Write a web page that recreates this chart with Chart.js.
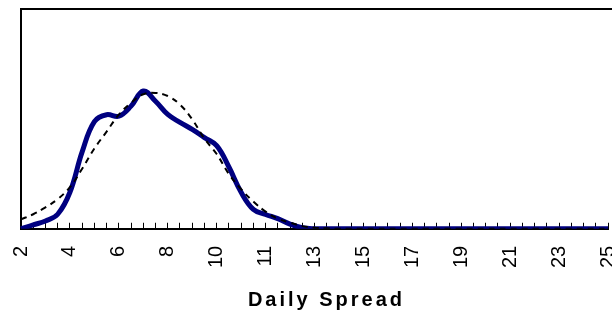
<!DOCTYPE html>
<html>
<head>
<meta charset="utf-8">
<script src="https://cdn.jsdelivr.net/npm/chart.js@4.4.1/dist/chart.umd.min.js"></script>
<style>
  html, body { margin: 0; padding: 0; background: #fff; overflow: hidden; }
  #wrap { width: 612px; height: 314px; overflow: hidden; }
</style>
</head>
<body>
<div id="wrap"><canvas id="spread_chart" width="640" height="314"></canvas></div>
<script>
// tick labels shown on every 4th category
var tickLabels = ['2', '4', '6', '8', '10', '11', '13', '15', '17', '19', '21', '23', '25'];

// solid navy series
var observed = [0, 1.8, 3.5, 6.6, 16.6, 35, 48.8, 51.9, 51.2, 55.8, 62.7, 58, 52, 48.4, 45.2, 41.5,
    37.8, 28.1, 16.6, 8.8, 6.5, 4.6, 2.1, 0.5, 0, 0, 0, 0, 0, 0, 0, 0, 0, 0, 0, 0, 0, 0, 0, 0,
    0, 0, 0, 0, 0, 0, 0, 0, 0];

// dashed black series
var fitted = [4.3, 6.6, 9.7, 13.5, 18.9, 27.3, 36.5, 44.2, 51.9, 57.3, 61.2, 61.8, 60.4, 56.5, 49.8, 41,
    34, 24.9, 18, 12.4, 7.8, 4.6, 2.8, 1.2, 0.5, 0.2, 0, 0, 0, 0, 0, 0, 0, 0, 0, 0, 0, 0, 0, 0,
    0, 0, 0, 0, 0, 0, 0, 0, 0];

var categories = observed.map(function (v, i) { return i; });

var fontFamily = "'Liberation Sans', Arial, sans-serif";

// top edge of the plot frame
var frameTop = {
    id: 'frameTop',
    afterDraw: function (chart) {
        var a = chart.chartArea, ctx = chart.ctx;
        ctx.save();
        ctx.strokeStyle = '#000';
        ctx.lineWidth = 2;
        ctx.beginPath();
        ctx.moveTo(a.left - 1, a.top);
        ctx.lineTo(chart.width, a.top);
        ctx.stroke();
        ctx.restore();
    }
};

// wide letter spacing on the axis title
var spacedTitle = {
    id: 'spacedTitle',
    beforeDraw: function (chart) {
        var x = chart.scales.x;
        if (x._spaced) return;
        var orig = x.drawTitle;
        x.drawTitle = function () {
            var c = this.ctx;
            c.save();
            c.letterSpacing = '3px';
            c.translate(12, 0);
            orig.call(this);
            c.restore();
        };
        x._spaced = true;
    }
};

new Chart(document.getElementById('spread_chart').getContext('2d'), {
    type: 'line',
    data: {
        labels: categories,
        datasets: [{
            label: 'Fitted',
            data: fitted,
            borderColor: '#000',
            borderWidth: 2,
            borderDash: [6, 5],
            pointRadius: 0,
            tension: 0.4,
            fill: false
        }, {
            label: 'Observed',
            data: observed,
            borderColor: '#000080',
            borderWidth: 5,
            pointRadius: 0,
            tension: 0.4,
            fill: false
        }]
    },
    options: {
        responsive: false,
        animation: false,
        layout: { padding: { left: 21, top: 9, right: 32, bottom: 0 } },
        plugins: { legend: { display: false }, tooltip: { enabled: false } },
        scales: {
            x: {
                type: 'category',
                offset: false,
                afterFit: function (scale) {
                    scale.paddingLeft = 0;
                    scale.paddingRight = 0;
                },
                grid: { display: true, drawOnChartArea: false, drawTicks: true, tickLength: -6, color: '#000', lineWidth: 1 },
                border: { display: true, color: '#000', width: 2 },
                ticks: {
                    autoSkip: false,
                    minRotation: 90,
                    maxRotation: 90,
                    padding: 23,
                    color: '#000',
                    font: { family: fontFamily, size: 20 },
                    callback: function (v, i) { return i % 4 === 0 ? tickLabels[i / 4] : ''; }
                },
                title: {
                    display: true,
                    text: 'Daily Spread',
                    color: '#000',
                    font: { family: fontFamily, size: 20, weight: 'bold' },
                    padding: { top: -3, bottom: 2 }
                }
            },
            y: {
                min: 0,
                max: 100,
                ticks: { display: false },
                grid: { display: false, drawTicks: false },
                border: { display: true, color: '#000', width: 2 }
            }
        }
    },
    plugins: [frameTop, spacedTitle]
});
</script>
</body>
</html>
